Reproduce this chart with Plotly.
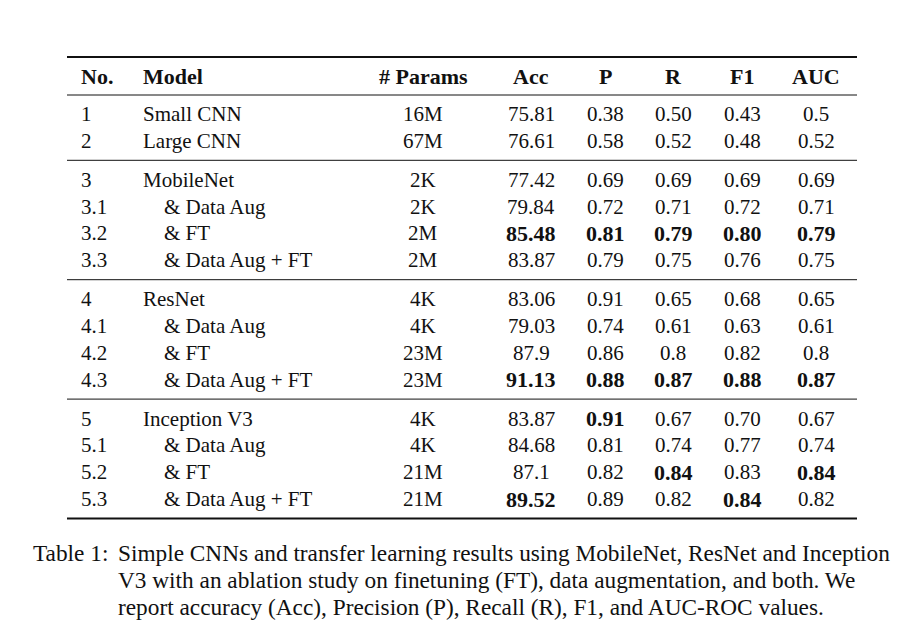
import plotly.graph_objects as go

# ---------------- data ----------------
headers = ["No.", "Model", "# Params", "Acc", "P", "R", "F1", "AUC"]
nos = ["1", "2", "3", "3.1", "3.2", "3.3", "4", "4.1", "4.2", "4.3",
       "5", "5.1", "5.2", "5.3"]
models = ["Small CNN", "Large CNN", "MobileNet", "& Data Aug", "& FT", "& Data Aug + FT",
          "ResNet", "& Data Aug", "& FT", "& Data Aug + FT",
          "Inception V3", "& Data Aug", "& FT", "& Data Aug + FT"]
params = ["16M", "67M", "2K", "2K", "2M", "2M", "4K", "4K", "23M", "23M",
          "4K", "4K", "21M", "21M"]
acc = ["75.81", "76.61", "77.42", "79.84", "85.48", "83.87", "83.06", "79.03", "87.9", "91.13",
       "83.87", "84.68", "87.1", "89.52"]
prec = ["0.38", "0.58", "0.69", "0.72", "0.81", "0.79", "0.91", "0.74", "0.86", "0.88",
        "0.91", "0.81", "0.82", "0.89"]
rec = ["0.50", "0.52", "0.69", "0.71", "0.79", "0.75", "0.65", "0.61", "0.8", "0.87",
       "0.67", "0.74", "0.84", "0.82"]
f1 = ["0.43", "0.48", "0.69", "0.72", "0.80", "0.76", "0.68", "0.63", "0.82", "0.88",
      "0.70", "0.77", "0.83", "0.84"]
auc = ["0.5", "0.52", "0.69", "0.71", "0.79", "0.75", "0.65", "0.61", "0.8", "0.87",
       "0.67", "0.74", "0.84", "0.82"]
# cells shown in bold: (row No., column)
bold_cells = {("3.2", "Acc"), ("3.2", "P"), ("3.2", "R"), ("3.2", "F1"), ("3.2", "AUC"),
              ("4.3", "Acc"), ("4.3", "P"), ("4.3", "R"), ("4.3", "F1"), ("4.3", "AUC"),
              ("5", "P"), ("5.2", "R"), ("5.2", "AUC"), ("5.3", "Acc"), ("5.3", "F1")}
groups = [["1", "2"], ["3", "3.1", "3.2", "3.3"], ["4", "4.1", "4.2", "4.3"],
          ["5", "5.1", "5.2", "5.3"]]
caption_label = "Table 1:"
caption_lines = [
    "Simple CNNs and transfer learning results using MobileNet, ResNet and Inception",
    "V3 with an ablation study on finetuning (FT), data augmentation, and both. We",
    "report accuracy (Acc), Precision (P), Recall (R), F1, and AUC-ROC values.",
]

# ---------------- layout constants ----------------
W, H = 921, 642
OFF = 8  # page body margin of the html page
FONT = "Liberation Serif"
FS = 21
FS_BOLD = 22
FS_HEAD = 22
FS_CAP = 23.3
TXT = "#111111"
col_x = {"No.": 79, "Model": 141, "# Params": 423, "Acc": 531, "P": 605,
         "R": 673, "F1": 742, "AUC": 816}
col_anchor = {"No.": "left", "Model": "left", "# Params": "center", "Acc": "center",
              "P": "center", "R": "center", "F1": "center", "AUC": "center"}
indent = 21
rule_x0, rule_x1 = 67, 857
header_y = 76
top_rule, head_rule = 57, 95
row_h = 26.8

fig = go.Figure()
annotations = []
shapes = []

def add_text(x, y, text, anchor="center", size=FS):
    annotations.append(dict(x=x, y=y, xref="x", yref="y", text=text, showarrow=False,
                            xanchor=anchor, yanchor="middle",
                            font=dict(family=FONT, size=size, color=TXT)))

def add_rule(y, width):
    shapes.append(dict(type="line", xref="x", yref="y", x0=rule_x0, x1=rule_x1,
                       y0=y, y1=y, line=dict(color="#111111", width=width)))

# header
for h in headers:
    add_text(col_x[h], header_y, f"<b>{h}</b>", col_anchor[h], FS_HEAD)
add_rule(top_rule, 1.8)
add_rule(head_rule, 1.0)

columns = {"No.": nos, "Model": models, "# Params": params, "Acc": acc, "P": prec,
           "R": rec, "F1": f1, "AUC": auc}
index = {n: i for i, n in enumerate(nos)}

y = head_rule + 19
for gi, grp in enumerate(groups):
    for n in grp:
        i = index[n]
        for h in headers:
            val = columns[h][i]
            x = col_x[h]
            size = FS
            if h == "Model" and "." in n:
                x += indent
            if (n, h) in bold_cells:
                val = f"<b>{val}</b>"
                size = FS_BOLD
            add_text(x, y, val, col_anchor[h], size)
        y += row_h
    rule_y = y - row_h + 19.5
    add_rule(rule_y, 1.8 if gi == len(groups) - 1 else 1.0)
    y = rule_y + 19.5

# caption
cap_y0, cap_dy = 553, 27
add_text(31, cap_y0, caption_label, "left", FS_CAP)
for k, line in enumerate(caption_lines):
    add_text(116, cap_y0 + k * cap_dy, line, "left", FS_CAP)

fig.update_layout(
    width=W, height=H, margin=dict(l=0, r=0, t=0, b=0),
    paper_bgcolor="white", plot_bgcolor="white",
    xaxis=dict(range=[OFF, W + OFF], visible=False, fixedrange=True),
    yaxis=dict(range=[H + OFF, OFF], visible=False, fixedrange=True),
    annotations=annotations, shapes=shapes, showlegend=False,
)
fig.write_html("out.html")
